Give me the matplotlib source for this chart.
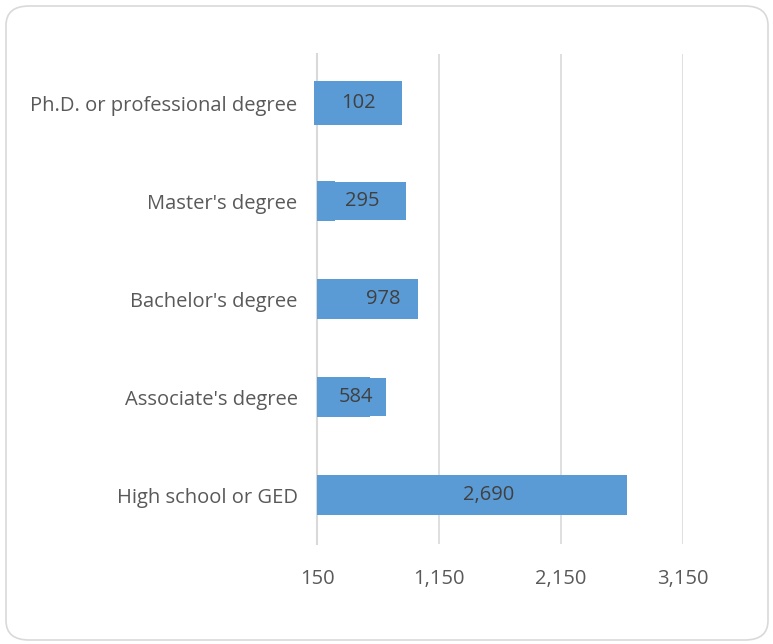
import matplotlib.pyplot as plt
from matplotlib.patches import FancyBboxPatch

plt.rcParams['font.family'] = ['Open Sans', 'DejaVu Sans']

# data
degrees = ["Ph.D. or professional degree", "Master's degree", "Bachelor's degree",
           "Associate's degree", "High school or GED"]
counts = [102, 295, 978, 584, 2690]
# end of the label boxes as they appear in the picture
label_box_end = [847, 880, 978, 715, 2690]
label_x = [486, 519, 691, 470, 1555]
ticks = [150, 1150, 2150, 3150]
axis_min = 150

bar_color = '#5B9BD5'
text_color = '#595959'

fig = plt.figure(figsize=(7.73, 6.44), dpi=100)
ax = fig.add_axes([317 / 773, 1 - 544 / 644, (683 - 317) / 773, (544 - 54) / 644])

ypos = list(range(len(degrees)))[::-1]

for y, v, be, lx in zip(ypos, counts, label_box_end, label_x):
    w = max(v - axis_min, 0)
    ax.barh(y, w, left=axis_min, height=0.4, color=bar_color, zorder=2)
    # label background box (a value below the axis minimum spills a bit left)
    left_box = 125 if v < axis_min else axis_min
    hb = 0.44 if v < axis_min else 0.38
    bars = ax.barh(y, be - left_box, left=left_box, height=hb, color=bar_color, zorder=2)
    for b in bars:
        b.set_clip_on(False)
    ax.text(lx, y, f"{v:,}", ha='center', va='center', fontsize=14.5,
            color='#404040', zorder=3)

ax.set_xlim(axis_min, 3150)
ax.set_ylim(-0.5, len(degrees) - 0.5)
ax.set_xticks(ticks)
ax.set_xticklabels([f"{t:,}" for t in ticks])
ax.set_yticks(ypos)
ax.set_yticklabels(degrees)
ax.tick_params(axis='both', length=0, colors=text_color, labelsize=14.5)
ax.tick_params(axis='y', pad=14)
ax.tick_params(axis='x', pad=18)
ax.grid(axis='x', color='#D9D9D9', linewidth=1.2, zorder=0)
for s in ['top', 'right', 'bottom']:
    ax.spines[s].set_visible(False)
ax.spines['left'].set_color('#D9D9D9')
ax.spines['left'].set_linewidth(1.5)
ax.spines['left'].set_zorder(1)

border = FancyBboxPatch((6 / 773, 4 / 644), 762 / 773, 634 / 644,
                        boxstyle="round,pad=0,rounding_size=0.03",
                        transform=fig.transFigure, fill=False,
                        edgecolor='#D9D9D9', linewidth=1.2)
fig.patches.append(border)

plt.savefig('out.png', dpi=100)
